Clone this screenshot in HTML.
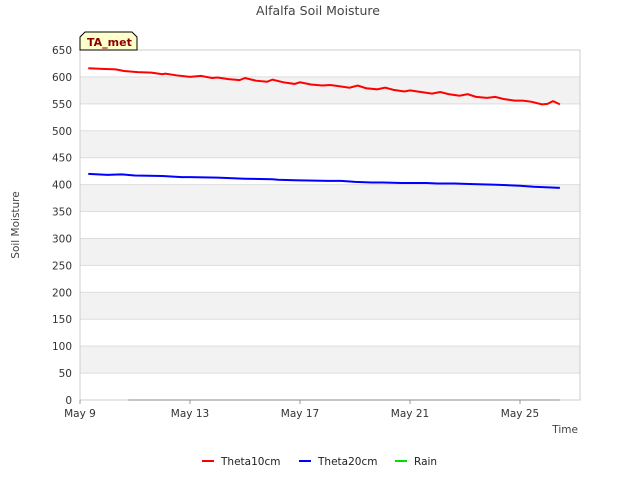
<!DOCTYPE html>
<html><head><meta charset="utf-8"><style>
body{margin:0;background:#fff;font-family:"Liberation Sans","DejaVu Sans",sans-serif;}
svg text{font-family:"DejaVu Sans","Liberation Sans",sans-serif;}
</style></head><body>
<svg width="640" height="480">
<text x="318" y="15" text-anchor="middle" font-size="12.5" fill="#444">Alfalfa Soil Moisture</text>
<g id="grid"></g>
<g id="series"></g>
<g>
<path d="M80,50 L80,37 L85,32 L132,32 L137,37 L137,50 Z" fill="#ffffcc" stroke="#000" stroke-width="1"/>
<text x="87" y="46" font-size="11" font-weight="bold" fill="#8b0000">TA_met</text>
</g>
<text x="19" y="225" font-size="10.5" fill="#444" text-anchor="middle" transform="rotate(-90 19 225)">Soil Moisture</text>
<text x="578" y="433" font-size="10.5" fill="#444" text-anchor="end">Time</text>
<g>
<g><line x1="202" y1="461" x2="214" y2="461" stroke="#f00" stroke-width="2"/><text x="221" y="465" font-size="10.5" fill="#222">Theta10cm</text></g>
<g><line x1="299" y1="461" x2="311" y2="461" stroke="#00f" stroke-width="2"/><text x="318" y="465" font-size="10.5" fill="#222">Theta20cm</text></g>
<g><line x1="395" y1="461" x2="407" y2="461" stroke="#0d0" stroke-width="2"/><text x="414" y="465" font-size="10.5" fill="#222">Rain</text></g>
</g>
</svg>
<script>
const yTicks=[0,50,100,150,200,250,300,350,400,450,500,550,600,650];
const xTickDays=[0,4,8,12,16];
const xTickLabels=["May 9","May 13","May 17","May 21","May 25"];
const theta10Days=[0.3,0.8,1.3,1.6,2.1,2.6,3.0,3.1,3.5,4.0,4.4,4.8,5.0,5.4,5.8,6.0,6.4,6.8,7.0,7.4,7.8,8.0,8.4,8.8,9.1,9.4,9.8,10.1,10.4,10.8,11.1,11.4,11.8,12.0,12.4,12.8,13.1,13.4,13.8,14.1,14.4,14.8,15.1,15.4,15.8,16.1,16.4,16.8,17.0,17.2,17.45];
const theta10Vals=[616,615,614,611,609,608,605,606,603,600,602,598,599,596,594,598,593,591,595,590,587,590,586,584,585,583,580,584,579,577,580,576,573,575,572,569,572,568,565,568,563,561,563,559,556,556,554,549,550,555,549];
const theta20Days=[0.3,1.0,1.5,2.0,3.0,3.7,4.0,5.0,6.0,7.0,7.2,7.8,9.0,9.5,10.0,10.6,11.0,11.7,12.0,12.6,13.0,13.6,14.3,15.0,15.5,16.0,16.5,17.45];
const theta20Vals=[420,418,419,417,416,414,414,413,411,410,409,408,407,407,405,404,404,403,403,403,402,402,401,400,399,398,396,394];
const rainDays=[1.75,17.45];
const rainVals=[0,0];
const X0=80,X1=580,Y0=400,Y1=50,pxDay=27.5;
const xs=d=>X0+d*pxDay, ys=v=>Y0-(v/650)*(Y0-Y1);
const NS="http://www.w3.org/2000/svg";
const grid=document.getElementById('grid'), ser=document.getElementById('series');
function mk(tag,attrs,parent){const e=document.createElementNS(NS,tag);for(const k in attrs)e.setAttribute(k,attrs[k]);parent.appendChild(e);return e;}
for(let i=0;i<yTicks.length-1;i++){
 if(i%2===1){const r=mk('rect',{x:X0,y:ys(yTicks[i+1]),width:X1-X0,height:ys(yTicks[i])-ys(yTicks[i+1]),fill:'#f2f2f2'},grid);
 
 }
}
yTicks.forEach(v=>{
 const l=mk('line',{x1:X0,x2:X1,y1:ys(v),y2:ys(v),stroke:'#ddd'},grid);
 
 
 const t=mk('text',{x:72,y:ys(v)+4,'text-anchor':'end','font-size':10.5,fill:'#333'},grid);t.textContent=v;
 
 
});
mk('rect',{x:X0,y:Y1,width:X1-X0,height:Y0-Y1,fill:'none',stroke:'#ccc'},grid);
xTickDays.forEach((d,i)=>{
 mk('line',{x1:xs(d),x2:xs(d),y1:Y0,y2:Y0+4,stroke:'#999'},grid);
 const t=mk('text',{x:xs(d),y:417,'text-anchor':'middle','font-size':10.5,fill:'#333'},grid);t.textContent=xTickLabels[i];
 
 
});
function line(days,vals,color,name,w){
 const p=mk('polyline',{points:days.map((d,i)=>xs(d)+','+ys(vals[i])).join(' '),fill:'none',stroke:color,'stroke-width':w},ser);
 
 
}
line(rainDays,rainVals,'#888','rain-line',1);
line(theta20Days,theta20Vals,'#00f','theta20cm-line',2);
line(theta10Days,theta10Vals,'#f00','theta10cm-line',2);
</script>
</body></html>
